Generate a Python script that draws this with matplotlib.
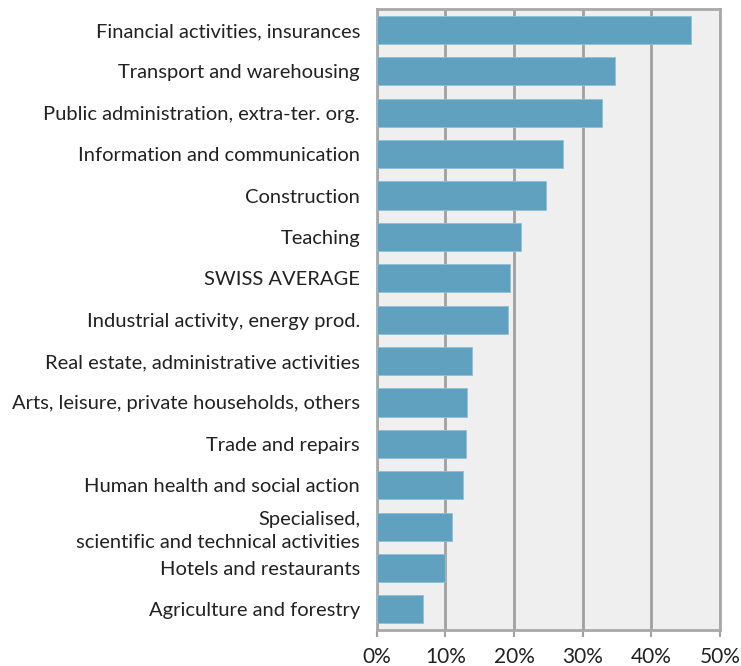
import numpy as np
import matplotlib.pyplot as plt

# sectors, top to bottom
sectors = [
    "Financial activities, insurances",
    "Transport and warehousing",
    "Public administration, extra-ter. org.",
    "Information and communication",
    "Construction",
    "Teaching",
    "SWISS AVERAGE",
    "Industrial activity, energy prod.",
    "Real estate, administrative activities",
    "Arts, leisure, private households, others",
    "Trade and repairs",
    "Human health and social action",
    "Specialised,\nscientific and technical activities",
    "Hotels and restaurants",
    "Agriculture and forestry",
]
shares = [45.7, 34.7, 32.8, 27.2, 24.6, 21.0, 19.4, 19.1, 13.9, 13.2, 13.0, 12.6, 11.0, 10.0, 6.8]
xticks = [0, 10, 20, 30, 40, 50]
xticklabels = ["0%", "10%", "20%", "30%", "40%", "50%"]

plt.rcParams['font.family'] = ['Lato', 'DejaVu Sans']

fig = plt.figure(figsize=(7.41, 6.66), dpi=100)
ax = fig.add_axes([0.5084, 0.054, 0.4633, 0.932])
ax.set_facecolor('#efefef')

y = np.arange(len(sectors))[::-1]
ax.barh(y, shares, height=0.68, color='#5fa1be', edgecolor='#8fc0d6', linewidth=0.6, zorder=3)

ax.set_xlim(0, 50)
ax.set_ylim(-0.5, len(sectors) - 0.5)
ax.set_xticks(xticks)
ax.set_xticklabels(xticklabels, fontsize=15, color='#222222')
ax.set_yticks(y)
ax.set_yticklabels(sectors, fontsize=14.5, color='#222222', linespacing=1.4)
ax.tick_params(axis='y', length=0, pad=12)
ax.tick_params(axis='x', length=5, width=1.5, color='#a0a0a0', pad=7)

ax.grid(axis='x', color='#a0a0a0', linewidth=2, zorder=1)
for s in ax.spines.values():
    s.set_color('#a8a8a8')
    s.set_linewidth(2)

plt.savefig('out.png', dpi=100)
